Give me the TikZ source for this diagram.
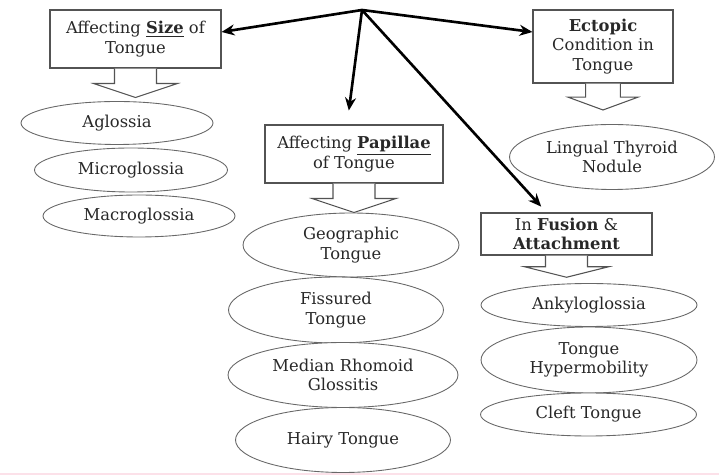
\documentclass[tikz,border=0pt]{standalone}
\usepackage{fontspec}
\setmainfont{DejaVu Serif}
\usetikzlibrary{arrows.meta,shapes.geometric,positioning}
\definecolor{ink}{RGB}{40,40,40}
\definecolor{blush}{RGB}{252,225,233}
\tikzset{
  >={Stealth[length=2.6mm,width=2.2mm]},
  cat/.style={draw=ink!80,line width=0.6pt,fill=white,align=center,inner sep=2pt,
    font=\fontsize{9.3}{11.2}\selectfont,text=ink},
  item/.style={ellipse,draw=ink!70,line width=0.5pt,fill=white,inner sep=0pt,align=center,
    font=\fontsize{9.3}{11.2}\selectfont,text=ink},
  link/.style={->,line width=1.5pt,draw=black},
  % hollow block arrow below a box
  pics/drop/.style={code={
    \draw[ink!80,line width=0.6pt,fill=white] (-21,0) -- (-21,15) -- (-42,15) -- (0,29)
      -- (42,15) -- (21,15) -- (21,0);
  }},
}

\begin{document}
\begin{tikzpicture}[x=0.02cm,y=-0.02cm]
  \useasboundingbox (0,0) rectangle (719,475);
  \fill[blush] (0,472.5) rectangle (719,475);
  \coordinate (hub) at (362,10);
  % size
  \node[cat,minimum width=3.42cm,minimum height=1.16cm] (size) at (135.5,39) {Affecting \underline{\textbf{Size}} of\\Tongue};
  \pic at (size.south) {drop};
  \node[item,minimum width=3.84cm,minimum height=0.86cm] (agl) at (117,123) {Aglossia};
  \node[item,minimum width=3.86cm,minimum height=0.88cm] (mic) at (131,170) {Microglossia};
  \node[item,minimum width=3.84cm,minimum height=0.84cm] (mac) at (139,216) {Macroglossia};
  % papillae
  \node[cat,minimum width=3.56cm,minimum height=1.16cm] (pap) at (354,154) {Affecting \underline{\textbf{Papillae}}\\of Tongue};
  \pic at (pap.south) {drop};
  \node[item,minimum width=4.32cm,minimum height=1.28cm] (geo) at (351,245) {Geographic\\Tongue};
  \node[item,minimum width=4.3cm,minimum height=1.32cm] (fis) at (336,310) {Fissured\\Tongue};
  \node[item,minimum width=4.6cm,minimum height=1.3cm] (med) at (343,375) {Median Rhomoid\\Glossitis};
  \node[item,minimum width=4.3cm,minimum height=1.3cm] (hai) at (343,440) {Hairy Tongue};
  % ectopic
  \node[cat,minimum width=2.8cm,minimum height=1.46cm] (ect) at (603,46.5) {\textbf{Ectopic}\\Condition in\\Tongue};
  \pic[scale=0.83,yscale=1.1] at (ect.south) {drop};
  \node[item,minimum width=4.1cm,minimum height=1.3cm] (lin) at (612,157) {Lingual Thyroid\\Nodule};
  % fusion
  \node[cat,minimum width=3.42cm,minimum height=0.84cm] (fus) at (566.5,234) {In \textbf{Fusion} \&\\\textbf{Attachment}};
  \pic[yscale=0.75] at (fus.south) {drop};
  \node[item,minimum width=4.32cm,minimum height=0.86cm] (ank) at (589,305) {Ankyloglossia};
  \node[item,minimum width=4.32cm,minimum height=1.32cm] (hyp) at (589,360) {Tongue\\Hypermobility};
  \node[item,minimum width=4.32cm,minimum height=0.86cm] (cle) at (588.5,414.5) {Cleft Tongue};
  % links
  \draw[link] (hub) -- ([yshift=0.14cm]size.east);
  \draw[link] (hub) -- ([yshift=0.29cm]ect.west);
  \draw[link,shorten >=8pt] (hub) -- ([xshift=-0.14cm]pap.north);
  \draw[link,shorten >=4.5pt] (hub) -- ([xshift=-0.4cm]fus.north);
\end{tikzpicture}
\end{document}
